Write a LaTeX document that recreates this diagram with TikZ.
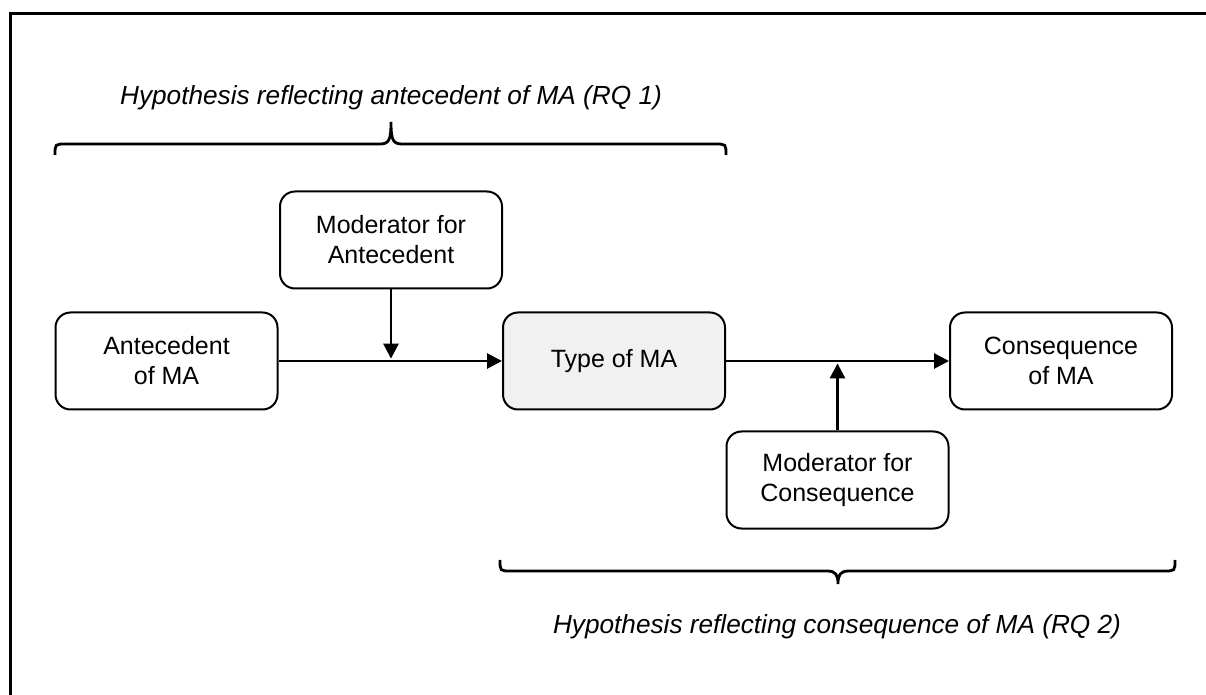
\documentclass[tikz,border=0pt]{standalone}
\usepackage{fontspec}
\setmainfont{Liberation Sans}
\usetikzlibrary{arrows.meta, positioning}
\definecolor{typegray}{RGB}{241,241,241}

\tikzset{
  box/.style={draw, line width=1pt, rounded corners=7.5pt, minimum width=111pt, minimum height=48.5pt,
    align=center, inner sep=2pt, font=\fontsize{12.5}{15}\selectfont},
  link/.style={line width=1.4pt, -{Triangle[length=7.5pt,width=7.5pt]}},
  bracket/.style={line width=1.4pt},
  note/.style={font=\fontsize{13.1}{15}\selectfont\itshape}
}

\begin{document}
\begin{tikzpicture}[x=0.5pt, y=-0.5pt]
    \useasboundingbox (0,0) rectangle (1206,695);

    % Outer frame (only top and left visible)
    \draw[line width=1.5pt] (10.7,695) -- (10.7,13.7) -- (1206,13.7);

    % Boxes
    \node[box] (ante) at (166.5,361) {Antecedent\\of MA};
    \node[box] (modA) at (391,240) {Moderator for\\Antecedent};
    \node[box, fill=typegray] (type) at (614,361) {Type of MA};
    \node[box] (cons) at (1061,361) {Consequence\\of MA};
    \node[box] (modC) at (837.5,480) {Moderator for\\Consequence};

    % Main paths
    \draw[link] (ante) -- (type);
    \draw[link] (type) -- (cons);

    % Moderating arrows onto the main paths
    \coordinate (joinA) at (modA |- ante);
    \coordinate (joinC) at (modC |- type);
    \draw[link, shorten >=1.2pt] (modA) -- (joinA);
    \draw[link, shorten >=1.2pt] (modC) -- (joinC);

    % Brace over RQ 1
    \draw[bracket] (55,155) .. controls (55,144) .. (66,144) -- (380,144)
        .. controls (389,144) and (391,140) .. (391,122)
        .. controls (391,140) and (393,144) .. (402,144) -- (715,144)
        .. controls (726,144) .. (726,155);
    \node[note] (hypA) at (391,98) {Hypothesis reflecting antecedent of MA (RQ 1)};

    % Brace under RQ 2
    \draw[bracket] (500,560) .. controls (500,571) .. (511,571) -- (827,571)
        .. controls (836,571) and (838,575) .. (838,584)
        .. controls (838,575) and (840,571) .. (849,571) -- (1164,571)
        .. controls (1175,571) .. (1175,560);
    \node[note] (hypC) at (837,627) {Hypothesis reflecting consequence of MA (RQ 2)};
\end{tikzpicture}
\end{document}
